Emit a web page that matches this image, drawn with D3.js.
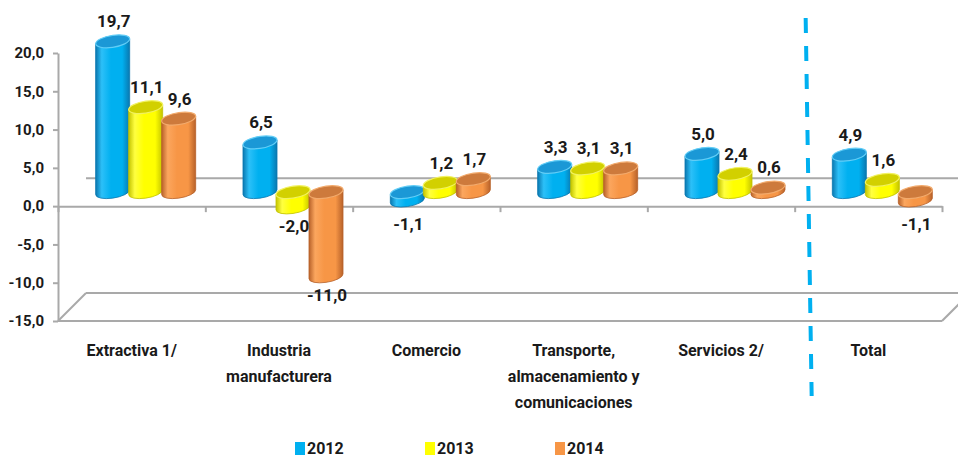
<!DOCTYPE html>
<html>
<head>
<meta charset="utf-8">
<script src="https://cdn.jsdelivr.net/npm/d3@7/dist/d3.min.js"></script>
<style>
  html, body { margin: 0; padding: 0; background: #ffffff; }
  svg { display: block; }
  text { font-family: Roboto, 'Liberation Sans', sans-serif; font-weight: bold; fill: #1a1a1a; }
</style>
</head>
<body>
<svg id="chart" width="958" height="458"></svg>
<script>
// Variación anual por sector
const categories = ["Extractiva 1/", "Industria manufacturera", "Comercio",
  "Transporte, almacenamiento y comunicaciones", "Servicios 2/", "Total"];
const categoryLines = [["Extractiva 1/"], ["Industria", "manufacturera"], ["Comercio"],
  ["Transporte,", "almacenamiento y", "comunicaciones"], ["Servicios 2/"], ["Total"]];
const years = ["2012", "2013", "2014"];
const values2012 = [19.7, 6.5, -1.1, 3.3, 5.0, 4.9];
const values2013 = [11.1, -2.0, 1.2, 3.1, 2.4, 1.6];
const values2014 = [9.6, -11.0, 1.7, 3.1, 0.6, -1.1];
const yTicks = [-15, -10, -5, 0, 5, 10, 15, 20];

const series = [values2012, values2013, values2014];
const colors = {
  "2012": { base: "#00b0f0", dark: "#0a78b0", light: "#2cc0f8", cap: "#1b98d6", rim: "#62cdf6" },
  "2013": { base: "#ffff00", dark: "#c4c400", light: "#ffff40", cap: "#d2d000", rim: "#f2f260" },
  "2014": { base: "#f79646", dark: "#b8622a", light: "#fba65e", cap: "#cd7a3c", rim: "#f2aa6c" }
};

const svg = d3.select("#chart");
const gridColor = "#a9a9a9";
const fontFamily = "Roboto, 'Liberation Sans', sans-serif";

const y = d3.scaleLinear().domain([-15, 20]).range([321, 53]);
const x = d3.scaleBand().domain(categories).range([58, 942]);
const xEdge = d3.scaleLinear().domain([0, categories.length]).range([58, 942]);
const sub = d3.scaleBand().domain(years).range([-49.5, 49.5]);
const depth = 28;            // wall depth in px (drawn at 45 degrees)
const half = depth / 2;      // columns sit in the middle of the floor

// decimal comma, plain hyphen for negatives
const fmt = v => d3.format(".1f")(v).replace(".", ",").replace("\u2212", "-");

// gradients for the cylinder bodies
const defs = svg.append("defs");
years.forEach(yr => {
  const c = colors[yr];
  const g = defs.append("linearGradient").attr("id", "body" + yr)
    .attr("x1", "0%").attr("x2", "100%").attr("y1", "0%").attr("y2", "0%");
  [[0, c.dark], [0.18, c.light], [0.45, c.base], [0.78, c.base], [1, c.dark]]
    .forEach(([o, col]) => g.append("stop").attr("offset", o).attr("stop-color", col));
});

// back wall / floor outline
const walls = svg.append("g").attr("stroke", gridColor).attr("stroke-width", 2).attr("fill", "none");
walls.append("line").attr("x1", 58 + depth).attr("x2", 942 + depth)
  .attr("y1", y(0) - depth).attr("y2", y(0) - depth);
walls.append("line").attr("x1", 58 + depth).attr("x2", 942 + depth)
  .attr("y1", y(-15) - depth).attr("y2", y(-15) - depth);
walls.append("line").attr("x1", 58).attr("x2", 942)
  .attr("y1", y(-15)).attr("y2", y(-15));
walls.append("line").attr("x1", 58).attr("x2", 58 + depth)
  .attr("y1", y(-15)).attr("y2", y(-15) - depth);
walls.append("line").attr("x1", 942).attr("x2", 942 + depth)
  .attr("y1", y(-15)).attr("y2", y(-15) - depth);

// category axis at zero with boundary ticks
const catAxis = svg.append("g").attr("transform", `translate(0,${y(0)})`)
  .call(d3.axisBottom(xEdge).tickValues(d3.range(categories.length + 1))
    .tickSize(6).tickSizeOuter(0).tickFormat(""));
catAxis.selectAll("path, line").attr("stroke", gridColor).attr("stroke-width", 2);

// value axis
const valAxis = svg.append("g").attr("transform", "translate(58,0)")
  .call(d3.axisLeft(y).tickValues(yTicks).tickSize(5).tickSizeOuter(0).tickFormat(fmt));
valAxis.selectAll("path, line").attr("stroke", gridColor).attr("stroke-width", 2);
valAxis.selectAll("text").attr("font-size", 15).attr("x", -14)
  .style("font-family", fontFamily).style("font-weight", "bold").attr("fill", "#1a1a1a");

// cylinders
const rx = 17, ry = 6, skew = -8;
const base = y(0) - half;
const barsG = svg.append("g");
const labelsG = svg.append("g");
categories.forEach((cat, ci) => {
  years.forEach((yr, si) => {
    const v = series[si][ci];
    const cx = x(cat) + x.bandwidth() / 2 + half + sub(yr) + sub.bandwidth() / 2;
    const top = Math.min(y(v) - half, base);
    const bot = Math.max(y(v) - half, base);
    const c = colors[yr];
    const g = barsG.append("g").attr("transform", `translate(${cx},0) skewY(${skew})`);
    g.append("path")
      .attr("d", `M${-rx},${top} L${-rx},${bot} A${rx},${ry} 0 0 0 ${rx},${bot} L${rx},${top} Z`)
      .attr("fill", `url(#body${yr})`)
      .attr("stroke", c.dark).attr("stroke-width", 0.8);
    g.append("ellipse").attr("cx", 0).attr("cy", top).attr("rx", rx).attr("ry", ry)
      .attr("fill", c.cap).attr("stroke", c.rim).attr("stroke-width", 1.2);

    // value label
    const ly = v >= 0 ? (y(v) - half) - 20 : Math.max(bot + 19, base + 32);
    labelsG.append("text").attr("x", cx + 1).attr("y", ly).attr("dy", "0.35em")
      .attr("text-anchor", "middle").attr("font-size", 17).text(fmt(v));
  });
});

// category labels
categories.forEach((cat, ci) => {
  const cxl = x(cat) + x.bandwidth() / 2;
  const t = svg.append("text").attr("text-anchor", "middle").attr("font-size", 16)
    .attr("x", cxl).attr("y", 356);
  categoryLines[ci].forEach((ln, li) => {
    t.append("tspan").attr("x", cxl).attr("dy", li === 0 ? 0 : 26).text(ln);
  });
});

// dashed separator before the total
const sepX = xEdge(categories.length - 1);
svg.append("line").attr("x1", sepX + 11).attr("y1", 18).attr("x2", sepX + 17).attr("y2", 396)
  .attr("stroke", "#00b0f0").attr("stroke-width", 4).attr("stroke-dasharray", "15,13");

// legend
const lx = d3.scalePoint().domain(years).range([295, 555]);
const leg = svg.append("g");
years.forEach(yr => {
  leg.append("rect").attr("x", lx(yr)).attr("y", 442).attr("width", 10).attr("height", 13)
    .attr("fill", colors[yr].base);
  leg.append("text").attr("x", lx(yr) + 12).attr("y", 454).attr("font-size", 16).text(yr);
});
</script>
</body>
</html>
